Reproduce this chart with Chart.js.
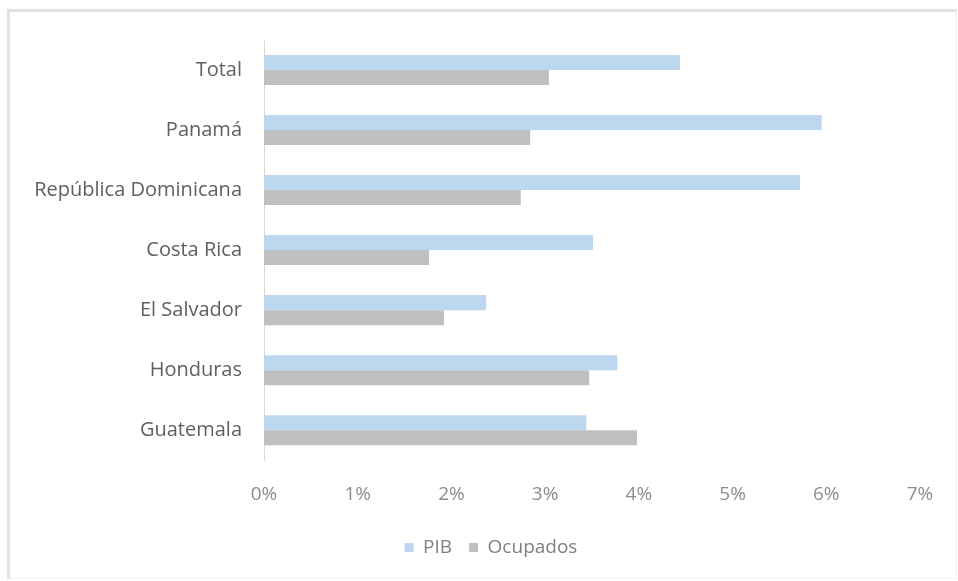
<!DOCTYPE html>
<html>
<head>
<meta charset="utf-8">
<script src="https://cdn.jsdelivr.net/npm/chart.js@4"></script>
<style>
  html, body { margin: 0; padding: 0; background: #fff; }
  #frame {
    position: absolute; left: 7px; top: 9px; width: 946px; height: 566px;
    border-left: 3px solid #e2e2e2; border-top: 3px solid #e2e2e2;
    border-right: 1px solid #f0f0f0; border-bottom: 1px solid #f3f3f3;
  }
  #mycanvas { position: absolute; left: 0; top: 0; }
</style>
</head>
<body>
<div id="frame"></div>
<canvas id="mycanvas" width="958" height="581"></canvas>
<script>
var paises = ["Total", "Panamá", "República Dominicana", "Costa Rica", "El Salvador", "Honduras", "Guatemala"];
var pib = [4.44, 5.95, 5.72, 3.51, 2.37, 3.77, 3.44];
var ocupados = [3.04, 2.84, 2.74, 1.76, 1.92, 3.47, 3.98];
var xTicks = [0, 1, 2, 3, 4, 5, 6, 7];

var font = { family: "'Open Sans', 'Noto Sans', sans-serif", size: 19 };
var fontY = { family: "'Open Sans', 'Noto Sans', sans-serif", size: 20 };

var chartdata = {
	labels: paises,
	datasets: [
	{
		label: "PIB",
		backgroundColor: "#bdd7ee",
		borderWidth: 0,
		data: pib,
		categoryPercentage: 0.5,
		barPercentage: 1.0
	},
	{
		label: "Ocupados",
		backgroundColor: "#bfbfbf",
		borderWidth: 0,
		data: ocupados,
		categoryPercentage: 0.5,
		barPercentage: 1.0
	}
	]
};

// el recuadro de la leyenda va un poco a la derecha, como en el original
var moverLeyenda = {
	id: 'moverLeyenda',
	beforeDraw: function(chart) {
		chart.legend.left += 22;
		chart.legend.right += 22;
	}
};

var ctx = document.getElementById("mycanvas");
var barGraph = new Chart(ctx, {
	type: 'bar',
	data: chartdata,
	plugins: [moverLeyenda],
	options: {
		indexAxis: 'y',
		responsive: false,
		animation: false,
		layout: { padding: { left: 18, right: 38, top: 40, bottom: 14 } },
		plugins: {
			tooltip: { enabled: false },
			legend: {
				position: 'bottom',
				labels: {
					color: '#808080',
					font: font,
					boxWidth: 9,
					boxHeight: 9,
					padding: 17
				}
			}
		},
		scales: {
			x: {
				min: 0,
				max: 7,
				afterBuildTicks: function(scale) {
					scale.ticks = xTicks.map(function(v){ return { value: v }; });
				},
				grid: { display: false },
				border: { display: false },
				ticks: {
					color: '#8c8c8c',
					font: font,
					padding: 15,
					callback: function(v) { return v + '%'; }
				}
			},
			y: {
				afterFit: function(scale) { scale.width = 264 - 18; },
				grid: { display: false },
				border: { display: true, color: '#d9d9d9', width: 1 },
				ticks: {
					color: '#606060',
					font: fontY,
					padding: 14
				}
			}
		}
	}
});
</script>
</body>
</html>
